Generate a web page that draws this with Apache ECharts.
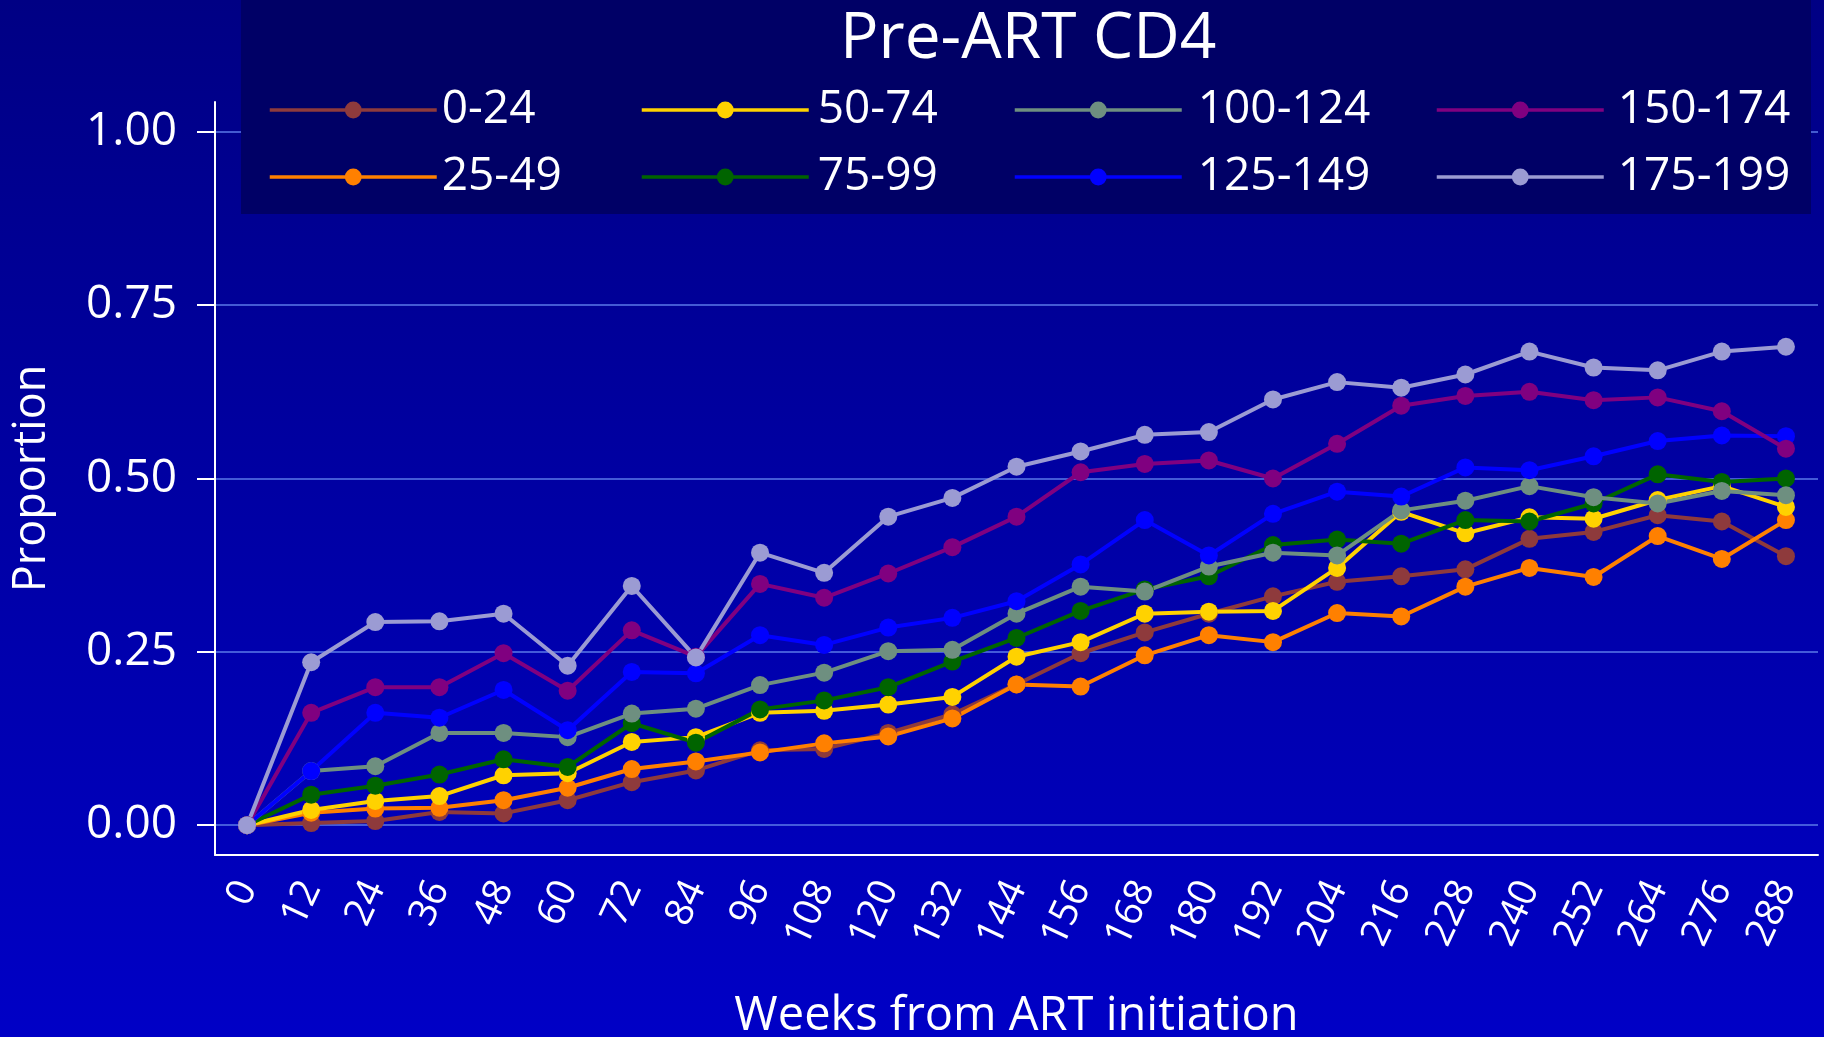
<!DOCTYPE html>
<html lang="en">
<head>
    <meta charset="UTF-8">
    <title>Pre-ART CD4</title>
    <script src="https://cdn.jsdelivr.net/npm/echarts@6/dist/echarts.min.js"></script>
    <style>
        html, body { margin: 0; padding: 0; }
        #chart { width: 1824px; height: 1037px; }
    </style>
</head>
<body>
    <div id="chart"></div>

    <script>
        // weeks from ART initiation
        var weeks = ['0', '12', '24', '36', '48', '60', '72', '84', '96', '108', '120', '132', '144',
            '156', '168', '180', '192', '204', '216', '228', '240', '252', '264', '276', '288'];
        var yTicks = [0, 0.25, 0.5, 0.75, 1];

        var names = ['0-24', '25-49', '50-74', '75-99', '100-124', '125-149', '150-174', '175-199'];
        var colors = ['#8e3a3c', '#ff8000', '#ffd200', '#006400', '#6e8f80', '#0000ff', '#800080', '#9b9bd3'];

        var cd4_0_24 = [0, 0.003, 0.006, 0.019, 0.017, 0.036, 0.062, 0.079, 0.108, 0.110, 0.133, 0.160, 0.203,
            0.248, 0.278, 0.305, 0.330, 0.351, 0.359, 0.369, 0.413, 0.423, 0.447, 0.438, 0.388];
        var cd4_25_49 = [0, 0.018, 0.024, 0.025, 0.036, 0.054, 0.081, 0.092, 0.105, 0.118, 0.128, 0.154, 0.203,
            0.200, 0.245, 0.274, 0.264, 0.306, 0.301, 0.344, 0.371, 0.358, 0.417, 0.384, 0.440];
        var cd4_50_74 = [0, 0.022, 0.035, 0.042, 0.072, 0.075, 0.120, 0.127, 0.162, 0.165, 0.174, 0.185, 0.243,
            0.264, 0.305, 0.308, 0.309, 0.371, 0.452, 0.421, 0.444, 0.442, 0.469, 0.489, 0.459];
        var cd4_75_99 = [0, 0.044, 0.057, 0.073, 0.095, 0.084, 0.147, 0.119, 0.167, 0.180, 0.199, 0.236, 0.270,
            0.309, 0.340, 0.359, 0.404, 0.412, 0.406, 0.440, 0.438, 0.464, 0.506, 0.495, 0.500];
        var cd4_100_124 = [0, 0.078, 0.085, 0.133, 0.133, 0.127, 0.161, 0.168, 0.202, 0.220, 0.251, 0.253, 0.305,
            0.344, 0.337, 0.373, 0.393, 0.389, 0.454, 0.468, 0.489, 0.473, 0.464, 0.482, 0.476];
        var cd4_125_149 = [0, 0.078, 0.162, 0.155, 0.195, 0.137, 0.221, 0.219, 0.274, 0.260, 0.285, 0.299, 0.323,
            0.376, 0.440, 0.389, 0.449, 0.481, 0.474, 0.516, 0.512, 0.532, 0.554, 0.562, 0.561];
        var cd4_150_174 = [0, 0.162, 0.199, 0.199, 0.248, 0.194, 0.281, 0.243, 0.348, 0.328, 0.363, 0.401, 0.445,
            0.509, 0.521, 0.526, 0.500, 0.550, 0.605, 0.619, 0.625, 0.613, 0.617, 0.597, 0.543];
        var cd4_175_199 = [0, 0.235, 0.293, 0.294, 0.305, 0.230, 0.345, 0.242, 0.393, 0.364, 0.445, 0.472, 0.517,
            0.539, 0.563, 0.567, 0.614, 0.639, 0.631, 0.650, 0.683, 0.660, 0.656, 0.683, 0.690];

        var allData = [cd4_0_24, cd4_25_49, cd4_50_74, cd4_75_99, cd4_100_124, cd4_125_149, cd4_150_174, cd4_175_199];

        var font = '"Open Sans", "DejaVu Sans", sans-serif';

        var series = [];
        for (var i = 0; i < names.length; i++) {
            series.push({
                name: names[i],
                type: 'line',
                data: allData[i],
                symbol: 'circle',
                symbolSize: 18,
                showSymbol: true,
                color: colors[i],
                lineStyle: { width: 4, color: colors[i] },
                itemStyle: { color: colors[i] }
            });
        }

        // 图例分四列，每列两项
        var legendLeft = [263, 635, 1008, 1430];
        var legendPad = [0, 4, 11, 9];
        var legends = [];
        for (var c = 0; c < 4; c++) {
            legends.push({
                data: [names[c * 2], names[c * 2 + 1]],
                orient: 'vertical',
                left: legendLeft[c],
                top: 82,
                itemWidth: 167,
                itemHeight: 21,
                itemGap: 21,
                selectedMode: false,
                z: 5,
                lineStyle: { width: 3.5 },
                textStyle: {
                    color: '#ffffff', fontSize: 46, fontFamily: font, lineHeight: 46,
                    padding: [0, 0, 0, legendPad[c]]
                }
            });
        }

        var chart = echarts.init(document.getElementById('chart'));
        chart.setOption({
            animation: false,
            backgroundColor: {
                type: 'linear', x: 0, y: 0, x2: 0, y2: 1,
                colorStops: [
                    { offset: 0, color: '#000084' },
                    { offset: 1, color: '#0000c6' }
                ]
            },
            title: {
                text: 'Pre-ART CD4',
                left: 835,
                top: 3,
                z: 6,
                textStyle: { color: '#ffffff', fontSize: 64, fontWeight: 'normal', fontFamily: font }
            },
            graphic: [{
                type: 'rect',
                z: 1,
                shape: { x: 241, y: 0, width: 1570, height: 214 },
                style: { fill: '#000066' }
            }],
            legend: legends,
            grid: { left: 215, right: 6, top: 102, bottom: 182, outerBoundsMode: 'none' },
            xAxis: {
                type: 'category',
                data: weeks,
                boundaryGap: true,
                name: 'Weeks from ART initiation',
                nameLocation: 'middle',
                nameGap: 138,
                nameTextStyle: { color: '#ffffff', fontSize: 47, fontFamily: font },
                axisLine: { onZero: false, lineStyle: { color: '#ffffff', width: 2 } },
                axisTick: { alignWithLabel: true, length: 20, lineStyle: { color: '#ffffff', width: 2 } },
                axisLabel: { color: '#ffffff', fontSize: 39, fontFamily: font, rotate: 65, margin: 28, interval: 0 },
                splitLine: { show: false }
            },
            yAxis: {
                type: 'value',
                min: -0.043,
                max: 1.043,
                name: 'Proportion',
                nameLocation: 'middle',
                nameGap: 160,
                nameTextStyle: { color: '#ffffff', fontSize: 45, fontFamily: font },
                axisLine: { show: true, lineStyle: { color: '#ffffff', width: 2 } },
                axisTick: { show: true, length: 18, customValues: yTicks, lineStyle: { color: '#ffffff', width: 2 } },
                axisLabel: {
                    color: '#ffffff', fontSize: 46, fontFamily: font, margin: 38,
                    customValues: yTicks,
                    formatter: function (v) { return v.toFixed(2); }
                },
                splitLine: { show: true, lineStyle: { color: '#5a7ae8', width: 1.5 } }
            },
            series: series
        });
    </script>
</body>
</html>
